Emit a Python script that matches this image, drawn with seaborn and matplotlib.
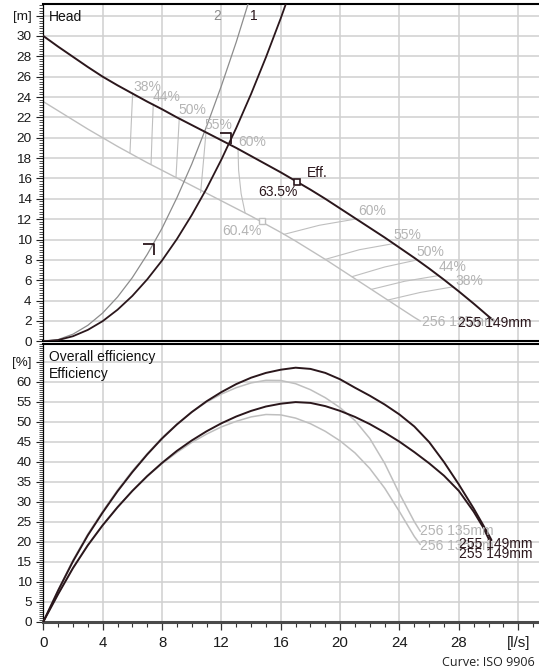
import matplotlib
matplotlib.use("Agg")
import matplotlib.pyplot as plt
from matplotlib.path import Path
from matplotlib.ticker import MultipleLocator, FixedLocator
import seaborn as sns

# ---------------- pump data ----------------
# Head curve, impeller 149 mm
q_head_149 = [0, 1, 2, 3, 4, 5, 6, 7, 8, 9, 10, 11, 12, 13, 14, 15, 16, 17, 18, 19, 20,
              21, 22, 23, 24, 25, 26, 27, 28, 29, 30, 30.3]
h_head_149 = [30.0, 28.95, 27.95, 26.95, 26.0, 25.15, 24.35, 23.55, 22.8, 22.0, 21.25, 20.5,
              19.75, 19.0, 18.2, 17.4, 16.6, 15.75, 14.9, 14.0, 13.05, 12.1, 11.15, 10.2, 9.2,
              8.2, 7.15, 6.05, 4.9, 3.7, 2.45, 2.1]

# Head curve, impeller 135 mm
q_head_135 = [0, 1, 2, 3, 4, 5, 6, 7, 8, 9, 10, 11, 12, 13, 14, 15, 16, 17, 18, 19, 20,
              21, 22, 23, 24, 25, 25.4]
h_head_135 = [23.55, 22.65, 21.75, 20.85, 20.0, 19.15, 18.35, 17.55, 16.8, 16.05, 15.3, 14.55,
              13.8, 13.05, 12.3, 11.5, 10.7, 9.85, 8.95, 8.05, 7.1, 6.15, 5.2, 4.25, 3.3, 2.35, 2.0]

# System curves 1 and 2
q_sys1 = [0, 1, 2, 3, 4, 5, 6, 7, 8, 9, 10, 11, 12, 13, 14, 15, 16, 17]
h_sys1 = [0, 0.12, 0.5, 1.12, 1.98, 3.1, 4.46, 6.08, 7.94, 10.04, 12.4, 15.0, 17.86, 20.96,
          24.3, 27.9, 31.74, 35.84]
q_sys2 = [0, 1, 2, 3, 4, 5, 6, 7, 8, 9, 10, 11, 12, 13, 14]
h_sys2 = [0, 0.17, 0.7, 1.57, 2.78, 4.35, 6.26, 8.53, 11.1, 14.1, 17.4, 21.1, 25.1, 29.4, 34.1]

# Iso-efficiency lines between the two impeller diameters
iso_labels = ["38%", "44%", "50%", "55%", "60%"]
iso_left_q = [[6.02, 5.93, 5.84], [7.41, 7.33, 7.26], [9.16, 9.05, 8.94],
              [10.96, 10.78, 10.6], [13.12, 13.16, 13.33, 13.6]]
iso_left_h = [[24.4, 21.5, 18.5], [23.3, 20.4, 17.4], [21.9, 19.0, 16.1],
              [20.5, 17.5, 14.6], [18.9, 16.8, 14.5, 12.6]]
iso_right_q = [[23.2, 25.4, 27.6], [22.1, 24.35, 26.6], [20.8, 23.0, 25.2],
               [19.0, 21.3, 23.6], [16.2, 18.6, 21.0]]
iso_right_h = [[4.05, 4.8, 5.35], [5.1, 5.9, 6.45], [6.35, 7.3, 8.0],
               [8.05, 9.0, 9.6], [10.5, 11.4, 12.0]]
iso_left_label_q = [6.05, 7.39, 9.08, 10.83, 13.14]
iso_left_label_h = [25.0, 24.0, 22.7, 21.3, 19.6]
iso_right_label_q = [27.74, 26.62, 25.16, 23.58, 21.23]
iso_right_label_h = [5.93, 7.26, 8.8, 10.46, 12.76]

# Best efficiency points
bep_q = [17.1, 14.72]
bep_h = [15.7, 11.78]
bep_eff = ["63.5%", "60.4%"]

# Duty points on the system curves
duty_q = [12.65, 7.46]
duty_h = [19.4, 8.5]

# Efficiency curves, impeller 149 mm
q_eff_149 = [0, 1, 2, 3, 4, 5, 6, 7, 8, 9, 10, 11, 12, 13, 14, 15, 16, 17, 18, 19, 20,
             21, 22, 23, 24, 25, 26, 27, 28, 29, 30, 30.2]
eff_149 = [0, 7.8, 15.1, 21.6, 27.3, 32.6, 37.4, 41.8, 45.8, 49.3, 52.4, 55.1, 57.4, 59.4,
           61.0, 62.2, 63.0, 63.5, 63.2, 62.2, 60.6, 58.5, 56.5, 54.3, 51.8, 48.8, 44.9,
           39.9, 34.3, 28.3, 21.8, 20.4]
q_eff_tot_149 = [0, 1, 2, 3, 4, 5, 6, 7, 8, 9, 10, 11, 12, 13, 14, 15, 16, 17, 18, 19, 20,
                 21, 22, 23, 24, 25, 26, 27, 28, 29, 29.65, 30.0]
eff_tot_149 = [0, 6.9, 13.4, 19.1, 24.1, 28.6, 32.7, 36.4, 39.7, 42.7, 45.3, 47.6, 49.6, 51.3,
               52.7, 53.8, 54.5, 54.9, 54.7, 53.9, 52.7, 51.2, 49.4, 47.3, 45.0, 42.4, 39.6,
               36.5, 32.7, 27.5, 23.5, 20.8]

# Efficiency curves, impeller 135 mm
q_eff_135 = [0, 1, 2, 3, 4, 5, 6, 7, 8, 9, 10, 11, 12, 13, 14, 15, 16, 17, 18, 19, 20,
             21, 22, 23, 24, 25, 25.4]
eff_135 = [0, 7.95, 15.4, 21.9, 27.6, 32.9, 37.7, 42.0, 46.0, 49.4, 52.4, 54.9, 56.9, 58.5,
           59.7, 60.35, 60.3, 59.5, 58.0, 56.0, 53.5, 50.3, 45.8, 39.6, 32.0, 25.0, 22.6]
q_eff_tot_135 = [0, 1, 2, 3, 4, 5, 6, 7, 8, 9, 10, 11, 12, 13, 14, 15, 16, 17, 18, 19, 20,
                 21, 22, 23, 24, 25, 25.4]
eff_tot_135 = [0, 6.95, 13.5, 19.2, 24.2, 28.7, 32.7, 36.3, 39.5, 42.3, 44.8, 46.9, 48.7, 50.1,
               51.2, 51.8, 51.7, 50.9, 49.5, 47.6, 45.2, 42.2, 38.3, 33.4, 27.5, 21.3, 19.3]

# Axis ticks
x_ticks = [0, 4, 8, 12, 16, 20, 24, 28, 32]
x_tick_labels = ["0", "4", "8", "12", "16", "20", "24", "28", "[l/s]"]
head_ticks = list(range(0, 34, 2))
head_tick_labels = [str(v) for v in range(0, 31, 2)] + ["[m]"]
eff_ticks = list(range(0, 66, 5))
eff_tick_labels = [str(v) for v in range(0, 61, 5)] + ["[%]"]

# ---------------- styling ----------------
sns.set_style("white")
plt.rcParams["font.family"] = ["Liberation Sans", "DejaVu Sans"]

DARK = "#2b171c"
GREY = "#bfbfbf"
MID = "#8c8c8c"
GRID = "#d0d0d0"
TXT_GREY = "#b4b4b4"
LABEL_FS = 10

W, H = 539, 671
fig = plt.figure(figsize=(W / 100, H / 100), dpi=100)


def px_rect(left, top, right, bottom):
    return [left / W, 1 - bottom / H, (right - left) / W, (bottom - top) / H]


ax_h = fig.add_axes(px_rect(43.3, 4, 539, 341.3))
ax_e = fig.add_axes(px_rect(43.3, 343.5, 539, 621.7))

for ax in (ax_h, ax_e):
    ax.set_xlim(0, 33.4)
    ax.xaxis.set_major_locator(FixedLocator(x_ticks))
    ax.xaxis.set_minor_locator(MultipleLocator(1))
    ax.grid(True, which="major", color=GRID, lw=1.1)
    ax.grid(False, which="minor")
    ax.set_axisbelow(True)
    ax.spines["right"].set_visible(False)
    ax.spines["left"].set_color("black")
    ax.spines["left"].set_linewidth(0.9)
    ax.spines["top"].set_color("black")
    ax.spines["top"].set_linewidth(1.5)
    ax.tick_params(axis="y", which="major", direction="out", length=5.2, width=0.8,
                   pad=3.2, labelsize=9.7, color="#222222", labelcolor="#1a1a1a", left=True)
    ax.tick_params(axis="y", which="minor", direction="out", length=3.0, width=0.6,
                   color="#333333", left=True)
    ax.set_xlabel("")
    ax.set_ylabel("")

# Head panel axes
ax_h.set_ylim(0, 33.14)
ax_h.yaxis.set_major_locator(FixedLocator(head_ticks))
ax_h.set_yticklabels(head_tick_labels)
ax_h.yaxis.set_minor_locator(MultipleLocator(0.25))
ax_h.spines["bottom"].set_color("black")
ax_h.spines["bottom"].set_linewidth(1.5)
ax_h.tick_params(axis="x", which="both", length=0, labelbottom=False)

# Efficiency panel axes
ax_e.set_ylim(0, 69.55)
ax_e.yaxis.set_major_locator(FixedLocator(eff_ticks))
ax_e.set_yticklabels(eff_tick_labels)
ax_e.yaxis.set_minor_locator(MultipleLocator(0.5))
ax_e.set_xticklabels(x_tick_labels)
ax_e.spines["bottom"].set_color("#4a4a4a")
ax_e.spines["bottom"].set_linewidth(2.2)
ax_e.tick_params(axis="x", which="major", direction="out", length=5.8, width=0.9,
                 pad=4.5, labelsize=10.8, color="#333333", labelcolor="#1a1a1a", bottom=True)
ax_e.tick_params(axis="x", which="minor", direction="out", length=3.6, width=0.8,
                 color="#333333", bottom=True)


def curve(ax, q, v, color, lw, z=3):
    sns.lineplot(x=q, y=v, ax=ax, color=color, linewidth=lw, sort=False,
                 estimator=None, legend=False, zorder=z)


# ---------------- head panel ----------------
for ql, hl in zip(iso_left_q, iso_left_h):
    curve(ax_h, ql, hl, GREY, 0.8, 2)
for qr, hr in zip(iso_right_q, iso_right_h):
    curve(ax_h, qr, hr, GREY, 0.8, 2)

curve(ax_h, q_head_135, h_head_135, GREY, 1.0, 2)
curve(ax_h, q_sys2, h_sys2, MID, 0.9, 3)
curve(ax_h, q_sys1, h_sys1, DARK, 1.3, 4)
curve(ax_h, q_head_149, h_head_149, DARK, 1.4, 4)

for lab, x, y in zip(iso_labels, iso_left_label_q, iso_left_label_h):
    ax_h.text(x, y, lab, color=TXT_GREY, fontsize=LABEL_FS, ha="left", va="center", zorder=5)
for lab, x, y in zip(iso_labels, iso_right_label_q, iso_right_label_h):
    ax_h.text(x, y, lab, color=TXT_GREY, fontsize=LABEL_FS, ha="left", va="center", zorder=5)

# best efficiency points
ax_h.plot(bep_q[1:], bep_h[1:], ls="none", marker="s", ms=3.8, mfc="white", mec=GREY, mew=1.0, zorder=5)
ax_h.plot(bep_q[:1], bep_h[:1], ls="none", marker="s", ms=3.8, mfc="white", mec=DARK, mew=1.2, zorder=6)
ax_h.text(12.09, 10.87, bep_eff[1], color=TXT_GREY, fontsize=LABEL_FS, ha="left", va="center", zorder=5)
ax_h.text(14.49, 14.64, bep_eff[0], color=DARK, fontsize=LABEL_FS, ha="left", va="center", zorder=6)
ax_h.text(17.75, 16.5, "Eff.", color=DARK, fontsize=LABEL_FS, ha="left", va="center", zorder=6)

# duty point markers
corner = Path([(-1, 1), (0, 1), (0, 0)], [Path.MOVETO, Path.LINETO, Path.LINETO])
ax_h.plot(duty_q, duty_h, ls="none", marker=corner, ms=15.5, mfc="none", mec=DARK, mew=1.3, zorder=6)

ax_h.text(11.45, 32.0, "2", color=MID, fontsize=LABEL_FS, ha="left", va="center")
ax_h.text(13.93, 32.0, "1", color=DARK, fontsize=LABEL_FS, ha="left", va="center")
ax_h.text(25.5, 1.88, "256 135mm", color=TXT_GREY, fontsize=LABEL_FS, ha="left", va="center", zorder=5)
ax_h.text(27.96, 1.8, "255 149mm", color=DARK, fontsize=LABEL_FS, ha="left", va="center", zorder=6)
ax_h.text(0.011, 0.962, "Head", transform=ax_h.transAxes, color="#111111", fontsize=LABEL_FS,
          ha="left", va="center")

# ---------------- efficiency panel ----------------
curve(ax_e, q_eff_135, eff_135, GREY, 1.1, 2)
curve(ax_e, q_eff_tot_135, eff_tot_135, GREY, 1.1, 2)
curve(ax_e, q_eff_149, eff_149, DARK, 1.4, 4)
curve(ax_e, q_eff_tot_149, eff_tot_149, DARK, 1.4, 4)

ax_e.text(25.38, 22.7, "256 135mm", color=TXT_GREY, fontsize=LABEL_FS, ha="left", va="center", zorder=5)
ax_e.text(25.38, 19.0, "256 135mm", color=TXT_GREY, fontsize=LABEL_FS, ha="left", va="center", zorder=5)
ax_e.text(27.98, 19.4, "255 149mm", color=DARK, fontsize=LABEL_FS, ha="left", va="center", zorder=6)
ax_e.text(27.98, 16.9, "255 149mm", color=DARK, fontsize=LABEL_FS, ha="left", va="center", zorder=6)
ax_e.text(0.011, 0.953, "Overall efficiency", transform=ax_e.transAxes, color="#111111",
          fontsize=LABEL_FS, ha="left", va="center")
ax_e.text(0.011, 0.889, "Efficiency", transform=ax_e.transAxes, color="#111111",
          fontsize=LABEL_FS, ha="left", va="center")

fig.text(535 / W, 1 - 663 / H, "Curve: ISO 9906", family=["Open Sans", "DejaVu Sans"],
         fontsize=9, color="#222222", ha="right", va="center")

fig.savefig("out.png", dpi=100)
